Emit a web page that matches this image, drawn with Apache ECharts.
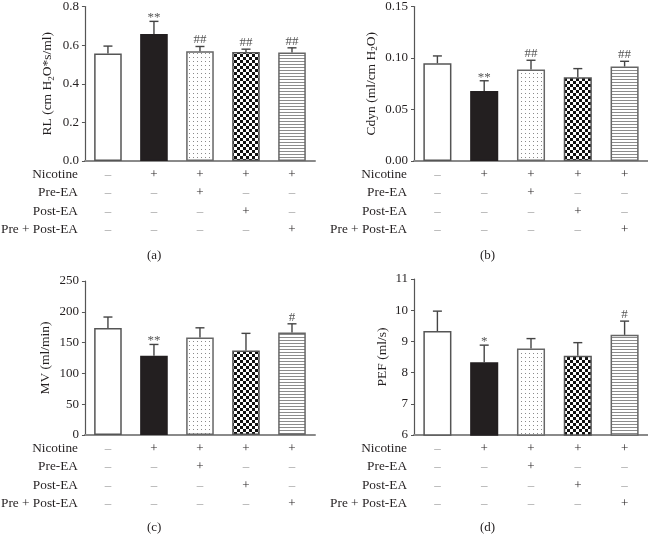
<!DOCTYPE html>
<html><head><meta charset="utf-8">
<script src="https://cdn.jsdelivr.net/npm/echarts@6/dist/echarts.min.js"></script>
<style>html,body{margin:0;padding:0;background:#fff}#c{width:648px;height:547px}</style>
</head><body><div id="c"></div>
<script>
// ---- data ----
const groups = ['Control', 'Nicotine', 'Pre-EA', 'Post-EA', 'Pre + Post-EA'];
const rowLabels = ['Nicotine', 'Pre-EA', 'Post-EA', 'Pre + Post-EA'];
const nicotineRow = ['–', '+', '+', '+', '+'];
const preEARow = ['–', '–', '+', '–', '–'];
const postEARow = ['–', '–', '–', '+', '–'];
const prePostEARow = ['–', '–', '–', '–', '+'];

const rlMean = [0.557, 0.658, 0.568, 0.564, 0.562];
const rlSD = [0.038, 0.065, 0.025, 0.015, 0.024];
const rlMarks = ['', '**', '##', '##', '##'];

const cdynMean = [0.0949, 0.068, 0.0888, 0.0814, 0.0917];
const cdynSD = [0.0071, 0.0099, 0.009, 0.0083, 0.0051];
const cdynMarks = ['', '**', '##', '', '##'];

const mvMean = [173.5, 128.5, 158.4, 137.3, 166.5];
const mvSD = [18, 18.5, 15.6, 27.7, 14];
const mvMarks = ['', '**', '', '', '#'];

const pefMean = [9.33, 8.33, 8.77, 8.54, 9.21];
const pefSD = [0.64, 0.55, 0.32, 0.42, 0.44];
const pefMarks = ['', '*', '', '', '#'];

const panelLetters = ['(a)', '(b)', '(c)', '(d)'];

// ---- styles ----
const FONT = '"Liberation Serif", "DejaVu Serif", serif';
const TXT = '#231f20';
const DASH = '#9a9a9a';
const AXIS = '#555555';

function makeCanvas(w, h, draw) {
  const c = document.createElement('canvas');
  c.width = w; c.height = h;
  const ctx = c.getContext('2d');
  ctx.fillStyle = '#ffffff'; ctx.fillRect(0, 0, w, h);
  draw(ctx);
  return c;
}
const dotPat = makeCanvas(4, 4, ctx => { ctx.fillStyle = '#8a8a8a'; ctx.fillRect(1, 1, 1, 1); });
const checkPat = makeCanvas(6, 6, ctx => { ctx.fillStyle = '#111'; ctx.fillRect(0, 0, 3, 3); ctx.fillRect(3, 3, 3, 3); });
const stripePat = makeCanvas(4, 3, ctx => { ctx.fillStyle = '#8c8c8c'; ctx.fillRect(0, 1, 4, 1); });

const fills = [
  '#ffffff',
  '#231f20',
  { image: dotPat, repeat: 'repeat' },
  { image: checkPat, repeat: 'repeat' },
  { image: stripePat, repeat: 'repeat' }
];
const borders = ['#555', '#231f20', '#666', '#555', '#666'];

const panels = [
  { mean: rlMean, sd: rlSD, marks: rlMarks, min: 0, max: 0.8, interval: 0.2, dec: 1,
    name: 'RL (cm H{sub|2}O*s/ml)', nameGap: 29,
    grid: { left: 83, top: 5, width: 232, height: 156 }, letter: [155, 257] },
  { mean: cdynMean, sd: cdynSD, marks: cdynMarks, min: 0, max: 0.15, interval: 0.05, dec: 2,
    name: 'Cdyn (ml/cm H{sub|2}O)', nameGap: 35,
    grid: { left: 414, top: 5, width: 234, height: 156 }, letter: [488, 257] },
  { mean: mvMean, sd: mvSD, marks: mvMarks, min: 0, max: 250, interval: 50, dec: 0,
    name: 'MV (ml/min)', nameGap: 32,
    grid: { left: 83, top: 281, width: 232, height: 154 }, letter: [155, 529] },
  { mean: pefMean, sd: pefSD, marks: pefMarks, min: 6, max: 11, interval: 1, dec: 0,
    name: 'PEF (ml/s)', nameGap: 25,
    grid: { left: 414, top: 279, width: 234, height: 156 }, letter: [488, 529] }
];

const tableRows = [nicotineRow, preEARow, postEARow, prePostEARow];
const rowOffsets = [13.5, 32, 50.5, 69];

const option = {
  animation: false,
  backgroundColor: '#fff',
  grid: [], xAxis: [], yAxis: [], series: [], graphic: []
};

panels.forEach((p, gi) => {
  option.grid.push(p.grid);
  const baseX = option.xAxis.length;
  option.xAxis.push({
    type: 'category', gridIndex: gi, data: groups,
    axisLine: { lineStyle: { color: '#8a8a8a', width: 2 } },
    axisTick: { show: false }, axisLabel: { show: false }
  });
  tableRows.forEach((row, ri) => {
    option.xAxis.push({
      type: 'category', gridIndex: gi, data: groups, position: 'bottom', offset: rowOffsets[ri],
      axisLine: { show: false }, axisTick: { show: false },
      axisLabel: {
        margin: 0, verticalAlign: 'middle', fontFamily: FONT, fontSize: 13, interval: 0,
        formatter: (v, i) => row[i],
        color: (v, i) => row[i] === '+' ? TXT : DASH
      },
      name: rowLabels[ri], nameLocation: 'start', nameGap: 7,
      nameTextStyle: { fontFamily: FONT, fontSize: 13.3, color: TXT, verticalAlign: 'middle', align: 'right' }
    });
  });
  option.yAxis.push({
    type: 'value', gridIndex: gi, min: p.min, max: p.max, interval: p.interval,
    splitLine: { show: false },
    axisLine: { show: true, lineStyle: { color: AXIS, width: 1.2 } },
    axisTick: { show: true, length: 3, lineStyle: { color: AXIS } },
    axisLabel: { fontFamily: FONT, fontSize: 13, color: TXT, margin: 6,
      formatter: v => v.toFixed(p.dec) },
    name: p.name, nameLocation: 'middle', nameGap: p.nameGap,
    nameTextStyle: { fontFamily: FONT, fontSize: 13.5, color: TXT,
      rich: { sub: { fontFamily: FONT, fontSize: 9, color: TXT, padding: [7, 0, 0, 0] } } }
  });
  option.series.push({
    type: 'bar', xAxisIndex: baseX, yAxisIndex: gi, barWidth: '60%',
    data: p.mean.map((v, i) => ({ value: v, itemStyle: { color: fills[i], borderColor: borders[i], borderWidth: 1.5 } })),
    z: 2
  });
  option.series.push({
    type: 'custom', xAxisIndex: baseX, yAxisIndex: gi, z: 5,
    data: p.mean.map((v, i) => [i, v, v + p.sd[i]]),
    renderItem: (params, api) => {
      const i = api.value(0);
      const a = api.coord([i, api.value(1)]);
      const b = api.coord([i, api.value(2)]);
      const st = { stroke: '#444', lineWidth: 1.4 };
      const ch = [
        { type: 'line', shape: { x1: a[0], y1: a[1], x2: b[0], y2: b[1] }, style: st },
        { type: 'line', shape: { x1: b[0] - 4.5, y1: b[1], x2: b[0] + 4.5, y2: b[1] }, style: st }
      ];
      const m = p.marks[params.dataIndex];
      if (m) {
        const star = m.indexOf('*') >= 0;
        ch.push({ type: 'text', style: { text: m, x: b[0], y: b[1] + (star ? 3 : 0),
          align: 'center', verticalAlign: 'bottom', fontFamily: FONT, fontSize: 13, fill: '#555' } });
      }
      return { type: 'group', children: ch };
    }
  });
  option.graphic.push({ type: 'text', left: p.letter[0] - 8, top: p.letter[1] - 8,
    style: { text: panelLetters[gi], fontFamily: FONT, fontSize: 13, fill: TXT } });
});

const chart = echarts.init(document.getElementById('c'), null, { renderer: 'canvas' });
chart.setOption(option);
</script>
</body></html>
